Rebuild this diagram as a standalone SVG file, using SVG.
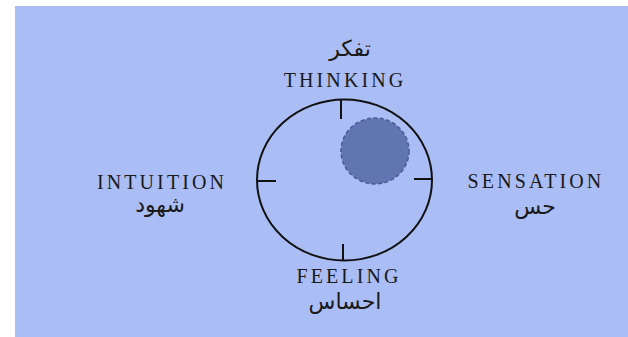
<svg xmlns="http://www.w3.org/2000/svg" width="628" height="337" viewBox="0 0 628 337">
<style>
.en{font-family:"Liberation Serif","DejaVu Serif",serif;font-size:20px;letter-spacing:3.1px;fill:#1a1a1a;text-anchor:middle}
.fa{font-family:"DejaVu Sans","Noto Sans",sans-serif;font-size:22px;fill:#1a1a1a;text-anchor:middle}
.tick{stroke:#111;stroke-width:2;fill:none}
</style>
<rect x="0" y="0" width="628" height="337" fill="#ffffff"/>
<rect x="15" y="6" width="613" height="331" fill="#aabdf5"/>
<g id="wheel">
<ellipse cx="344.5" cy="180" rx="87.5" ry="80.5" fill="none" stroke="#111" stroke-width="2"/>
<line class="tick" x1="341" y1="100" x2="341" y2="119"/>
<line class="tick" x1="257" y1="181" x2="276" y2="181"/>
<line class="tick" x1="414" y1="179" x2="432" y2="179"/>
<line class="tick" x1="343" y1="244" x2="343" y2="260"/>
</g>
<g id="focus">
<ellipse cx="375" cy="151" rx="34" ry="33" fill="#6275b3" stroke="#4a5a94" stroke-width="1.5" stroke-dasharray="4 2.5"/>
</g>
<g id="thinking">
<text class="fa" x="350" y="56">تفکر</text>
<text class="en" x="345" y="87">THINKING</text>
</g>
<g id="intuition">
<text class="en" x="162" y="189">INTUITION</text>
<text class="fa" x="160" y="212">شهود</text>
</g>
<g id="sensation">
<text class="en" x="536" y="188">SENSATION</text>
<text class="fa" x="535" y="214">حس</text>
</g>
<g id="feeling">
<text class="en" x="349" y="283">FEELING</text>
<text class="fa" x="345" y="309">احساس</text>
</g>
<g id="connectors"/>
</svg>
